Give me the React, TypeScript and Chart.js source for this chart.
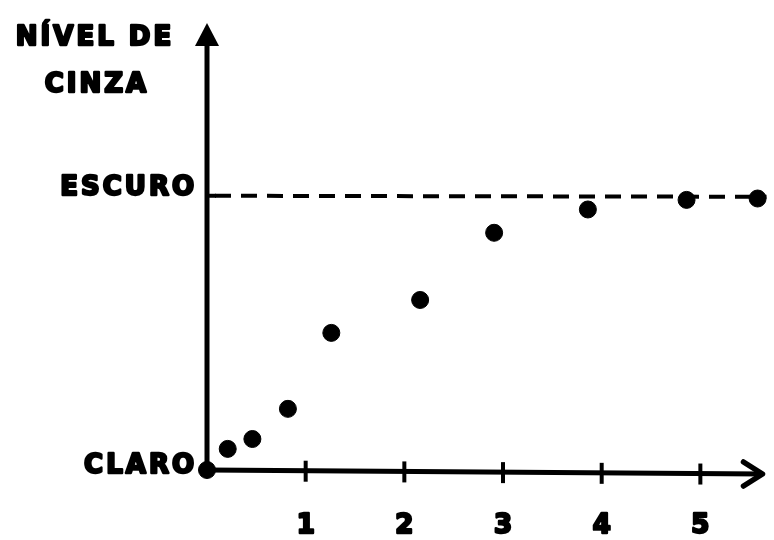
import React, { useEffect, useRef } from "react";
import { Chart, registerables } from "chart.js";

Chart.register(...registerables);

// Data (x: time units, y: grey level 0 = CLARO, 1 = ESCURO)
const xValues = [0, 0.21, 0.46, 0.82, 1.26, 2.16, 2.91, 3.86, 4.86, 5.58];
const yValues = [0, 0.077, 0.113, 0.223, 0.5, 0.62, 0.865, 0.95, 0.985, 0.99];
const xTickValues = [1, 2, 3, 4, 5];
const xTickLabels = ["1", "2", "3", "4", "5"];
const yTickValues = [0, 1];
const yTickLabels = ["CLARO", "ESCURO"];
const yTitleLines = ["NÍVEL DE", "CINZA"];
const dashedLevel = 1;

const FONT = "bold 26px 'DejaVu Sans', sans-serif";

function heavyText(ctx: CanvasRenderingContext2D, t: string, x: number, y: number) {
  ctx.lineWidth = 2.4;
  ctx.lineJoin = "round";
  ctx.strokeText(t, x, y);
  ctx.fillText(t, x, y);
}

const drawPlugin = {
  id: "drawAxes",
  beforeDatasetsDraw(chart: any) {
    const ctx = chart.ctx as CanvasRenderingContext2D;
    const xs = chart.scales.x;
    const ys = chart.scales.y;
    const x0 = xs.getPixelForValue(0);
    const y0 = ys.getPixelForValue(0);
    const xEnd = xs.getPixelForValue(xs.max);
    const yEnd = ys.getPixelForValue(ys.max);
    ctx.save();
    ctx.strokeStyle = "#000";
    ctx.fillStyle = "#000";
    ctx.lineCap = "butt";

    // dashed line at ESCURO
    const yd = ys.getPixelForValue(dashedLevel);
    ctx.setLineDash([16, 10]);
    ctx.lineWidth = 4;
    ctx.beginPath();
    ctx.moveTo(x0 + 8, yd);
    ctx.lineTo(xEnd + 2, yd + 1);
    ctx.stroke();
    ctx.setLineDash([]);
    ctx.beginPath();
    ctx.moveTo(x0, yd);
    ctx.lineTo(x0 + 9, yd);
    ctx.stroke();

    // y axis
    ctx.lineWidth = 5;
    ctx.beginPath();
    ctx.moveTo(x0, y0);
    ctx.lineTo(x0, yEnd + 14);
    ctx.stroke();
    ctx.beginPath();
    ctx.moveTo(x0, yEnd);
    ctx.lineTo(x0 - 12, yEnd + 23);
    ctx.lineTo(x0 + 12, yEnd + 23);
    ctx.closePath();
    ctx.fill();

    // x axis
    ctx.lineWidth = 5;
    ctx.beginPath();
    ctx.moveTo(x0, y0);
    ctx.lineTo(xEnd - 2, y0 + 4);
    ctx.stroke();
    ctx.lineWidth = 5.5;
    ctx.lineJoin = "round";
    ctx.lineCap = "round";
    ctx.beginPath();
    ctx.moveTo(xEnd - 21, y0 - 8);
    ctx.lineTo(xEnd - 2, y0 + 4);
    ctx.lineTo(xEnd - 21, y0 + 16);
    ctx.stroke();
    ctx.lineCap = "butt";

    // x ticks + labels
    ctx.font = FONT;
    (ctx as any).letterSpacing = "0px";
    ctx.textAlign = "center";
    ctx.textBaseline = "alphabetic";
    xTickValues.forEach((v, i) => {
      const px = xs.getPixelForValue(v);
      const py = y0 + (v / xs.max) * 4;
      ctx.lineWidth = 4;
      ctx.beginPath();
      ctx.moveTo(px, py - 10);
      ctx.lineTo(px, py + 11);
      ctx.stroke();
      heavyText(ctx, xTickLabels[i], px, 533);
    });

    // y tick labels
    (ctx as any).letterSpacing = "3px";
    ctx.textAlign = "right";
    yTickValues.forEach((v, i) => {
      const py = ys.getPixelForValue(v);
      heavyText(ctx, yTickLabels[i], x0 - 10, py + (v === 0 ? 3 : -1));
    });

    // y title
    ctx.textAlign = "center";
    heavyText(ctx, yTitleLines[0], 95, 45);
    heavyText(ctx, yTitleLines[1], 97, 92);
    ctx.restore();
  },
};

export default function App() {
  const ref = useRef<HTMLCanvasElement | null>(null);
  useEffect(() => {
    if (!ref.current) return;
    const chart = new Chart(ref.current, {
      type: "scatter",
      data: {
        datasets: [
          {
            data: xValues.map((x, i) => ({ x, y: yValues[i] })),
            backgroundColor: "#000",
            borderColor: "#000",
            pointRadius: 8.5,
            pointHoverRadius: 8.5,
          },
        ],
      },
      options: {
        responsive: false,
        animation: false,
        events: [],
        layout: { padding: { left: 207, right: -4, top: 23, bottom: 70 } },
        plugins: { legend: { display: false }, tooltip: { enabled: false } },
        scales: {
          x: { type: "linear", min: 0, max: 5.65, display: false },
          y: { type: "linear", min: 0, max: 1.63, display: false },
        },
        clip: false as any,
      },
      plugins: [drawPlugin],
    });
    return () => chart.destroy();
  }, []);
  return (
    <div style={{ position: "absolute", left: 0, top: 0, width: 774, height: 540, background: "#fff" }}>
      <canvas ref={ref} width={774} height={540} style={{ width: 774, height: 540 }} />
    </div>
  );
}
